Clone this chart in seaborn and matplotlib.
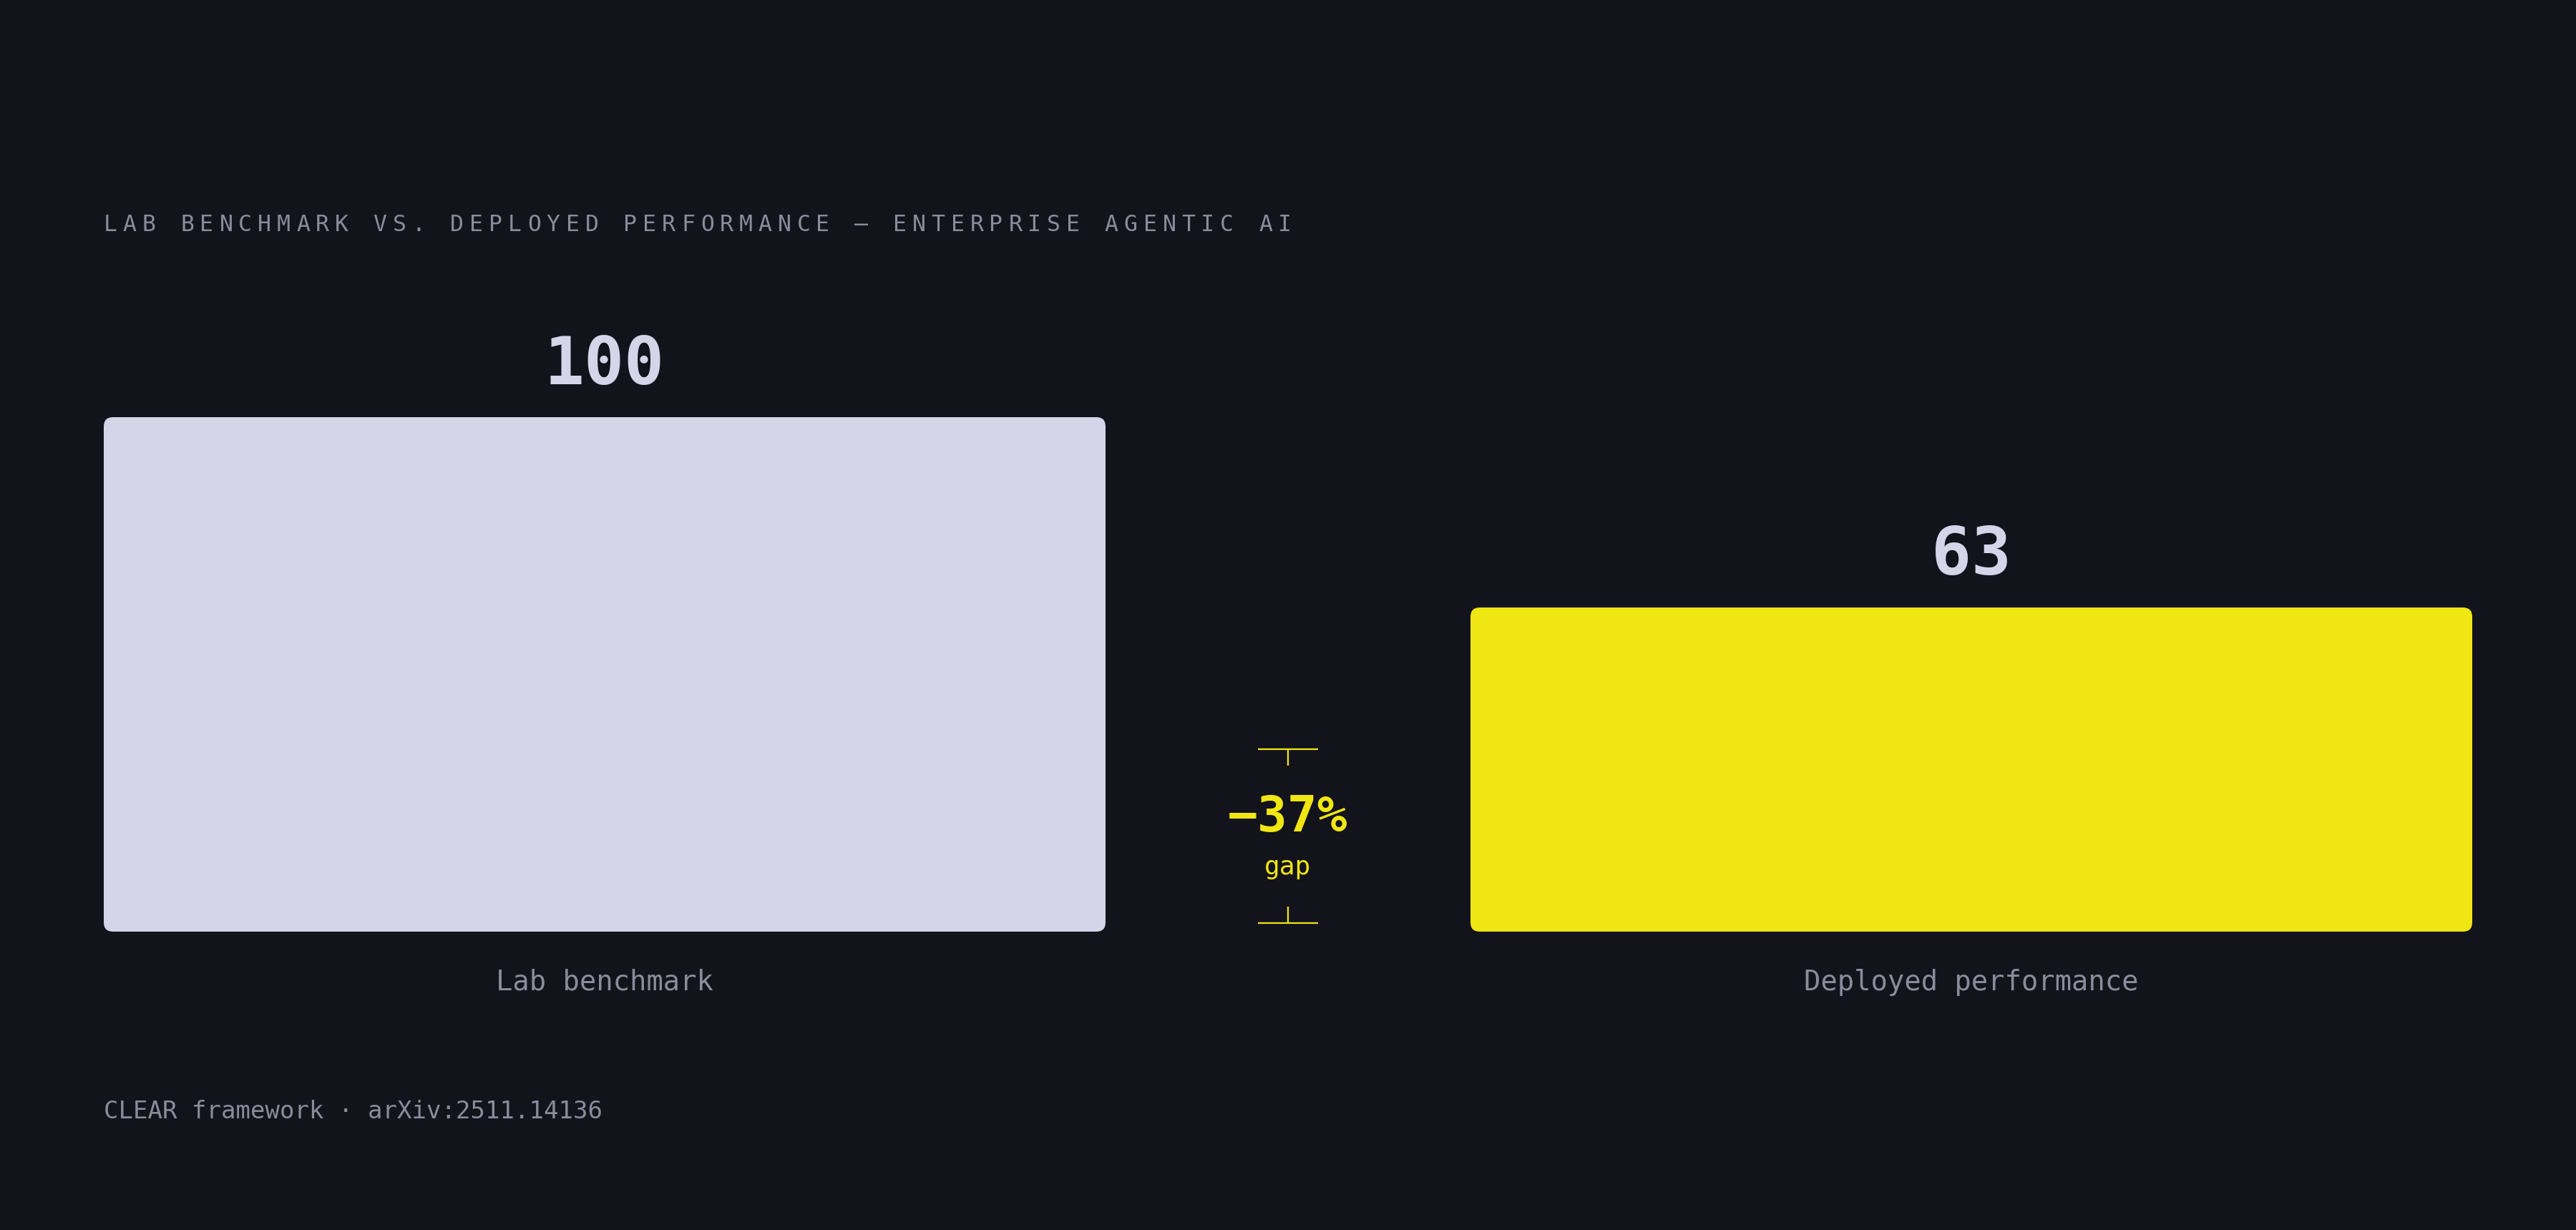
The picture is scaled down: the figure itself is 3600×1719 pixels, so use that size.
import matplotlib
matplotlib.use("Agg")
import matplotlib.pyplot as plt
from matplotlib.patches import FancyBboxPatch
import seaborn as sns

# data
categories = ["Lab benchmark", "Deployed performance"]
values = [100, 63]
value_labels = ["100", "63"]
gap_label = "\u221237%"
title = "LAB BENCHMARK VS. DEPLOYED PERFORMANCE \u2014 ENTERPRISE AGENTIC AI"
footer = "CLEAR framework \u00b7 arXiv:2511.14136"

BG = "#13131c"
BAR_COLORS = ["#d4d5e9", "#f0e614"]
NUM_COLOR = "#d4d5e9"
MUTED = "#8b8b9b"
ACCENT = "#f0e614"

W, H = 3600, 1719
BAR_W = 1400 / 1910

sns.set_theme(style="white")
plt.rcParams["font.family"] = ["DejaVu Sans Mono", "DejaVu Sans"]
plt.rcParams["figure.facecolor"] = BG
plt.rcParams["axes.facecolor"] = BG

fig = plt.figure(figsize=(W / 100, H / 100), dpi=100)
ax = fig.add_axes([145 / W, 417 / H, 3310 / W, 719 / H])

sns.barplot(x=categories, y=values, hue=categories, palette=BAR_COLORS,
            width=BAR_W, saturation=1, legend=False, ax=ax)

ax.set_xlim(-BAR_W / 2, 1 + BAR_W / 2)
ax.set_ylim(0, 100)

# swap plain bars for rounded ones
px_x = 3310 / (1 + BAR_W)
px_y = 719 / 100
for p, c in zip(list(ax.patches), BAR_COLORS):
    x, y, w, h = p.get_x(), p.get_y(), p.get_width(), p.get_height()
    p.remove()
    r = 13 / px_x
    ax.add_patch(FancyBboxPatch((x, y), w, h,
                                boxstyle=f"round,pad=0,rounding_size={r}",
                                mutation_aspect=px_x / px_y,
                                fc=c, ec="none"))

for i, (v, lab) in enumerate(zip(values, value_labels)):
    ax.annotate(lab, xy=(i, v), xytext=(0, 33), textcoords="offset points",
                ha="center", va="baseline", fontsize=67, fontweight="bold",
                color=NUM_COLOR)

# gap bracket between the bars
gap = values[0] - values[1]
pad = 1.6
top, bot = gap - pad, pad
hw = 42 / px_x
tick = 23 / px_y
ax.plot([0.5 - hw, 0.5 + hw], [top, top], color=ACCENT, lw=1.6, solid_capstyle="butt")
ax.plot([0.5, 0.5], [top, top - tick], color=ACCENT, lw=1.6, solid_capstyle="butt")
ax.plot([0.5 - hw, 0.5 + hw], [bot, bot], color=ACCENT, lw=1.6, solid_capstyle="butt")
ax.plot([0.5, 0.5], [bot, bot + tick], color=ACCENT, lw=1.6, solid_capstyle="butt")
ax.annotate(gap_label, xy=(0.5, gap / 2), xytext=(0, 4.7), textcoords="offset points",
            ha="center", va="baseline", fontsize=50, fontweight="bold", color=ACCENT)
ax.annotate("gap", xy=(0.5, gap / 2), xytext=(0, -38.5), textcoords="offset points",
            ha="center", va="baseline", fontsize=26, color=ACCENT)

ax.set_xticks([0, 1])
ax.set_xticklabels(categories, fontsize=28, color=MUTED, va="baseline")
ax.tick_params(axis="x", length=0, pad=59)
ax.set_yticks([])
ax.set_xlabel("")
ax.set_ylabel("")
for s in ax.spines.values():
    s.set_visible(False)

# letter-spaced title
pitch = 26.9
for i, ch in enumerate(title):
    fig.text((145 + i * pitch) / W, (H - 323) / H, ch, ha="left", va="baseline",
             fontsize=22.7, color=MUTED)

fig.text(145 / W, (H - 1563) / H, footer, ha="left", va="baseline",
         fontsize=24.5, color=MUTED)

fig.savefig("out.png", dpi=100, facecolor=BG)
